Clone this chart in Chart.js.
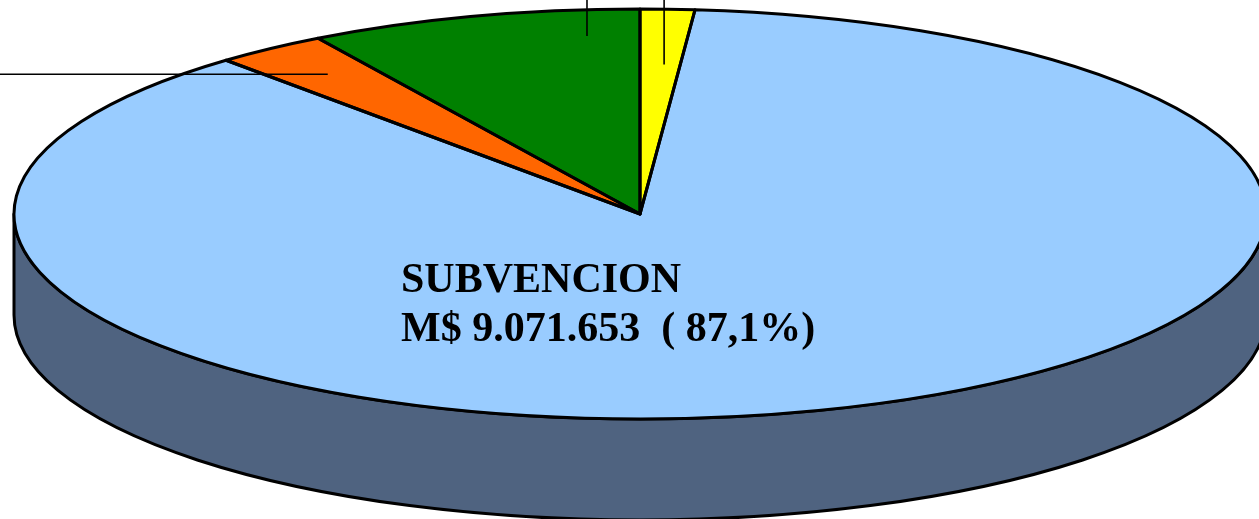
<!DOCTYPE html>
<html><head><meta charset="utf-8">
<script src="https://cdn.jsdelivr.net/npm/chart.js@4/dist/chart.umd.min.js"></script>
<style>html,body{margin:0;padding:0;background:#fff;overflow:hidden}canvas{display:block}</style>
</head><body>
<canvas id="c" width="1259" height="519"></canvas>
<script>
// ---- data (clockwise from 12 o'clock) ----
const categories = ['Aporte A', 'SUBVENCION', 'Aporte B', 'Aporte C'];
const values = [145800, 9071653, 302000, 895700];
const colors = ['#FFFF00', '#99CCFF', '#FF6600', '#008000'];
const sideColors = ['#808000', '#4F6380', '#803300', '#004000'];
const mainLabel = ['SUBVENCION', 'M$ 9.071.653  ( 87,1%)'];

// ---- 3D projection settings ----
const CX = 640, CY = 214, R = 626, K = 205 / 626, DEPTH = 101;
// leader lines: slice index, fraction along slice angle, fraction of radius, direction
const leaders = [
  { i: 0, f: 0.6, r: 0.73, dir: 'up' },
  { i: 2, f: 0.5, r: 0.845, dir: 'left' },
  { i: 3, f: 0.82, r: 0.872, dir: 'up' }
];

function applyTilt(ctx, arc) {
  ctx.translate(CX, CY);
  ctx.scale(1, K);
  ctx.translate(-arc.x, -arc.y);
}

const pie3d = {
  id: 'pie3d',
  beforeDatasetsDraw(chart) {
    const ctx = chart.ctx;
    const arcs = chart.getDatasetMeta(0).data;
    // side walls (front half: canvas angles 0..PI)
    ctx.save();
    ctx.lineWidth = 3;
    ctx.strokeStyle = '#000';
    ctx.lineJoin = 'round';
    arcs.forEach((arc, idx) => {
      const p = arc.getProps(['startAngle', 'endAngle', 'outerRadius'], true);
      const rr = p.outerRadius;
      const s = Math.max(p.startAngle, 0), e = Math.min(p.endAngle, Math.PI);
      if (e <= s) return;
      ctx.beginPath();
      ctx.ellipse(CX, CY, rr, rr * K, 0, s, e, false);
      ctx.lineTo(CX + rr * Math.cos(e), CY + rr * K * Math.sin(e) + DEPTH);
      ctx.ellipse(CX, CY + DEPTH, rr, rr * K, 0, e, s, true);
      ctx.closePath();
      ctx.fillStyle = sideColors[idx];
      ctx.fill();
      ctx.stroke();
    });
    ctx.restore();
    // tilt the top face
    ctx.save();
    applyTilt(ctx, arcs[0]);
  },
  afterDatasetsDraw(chart) {
    const ctx = chart.ctx;
    ctx.restore();
    const arcs = chart.getDatasetMeta(0).data;
    ctx.save();
    ctx.lineWidth = 3;
    ctx.strokeStyle = '#000';
    ctx.lineJoin = 'round';
    arcs.forEach(arc => {
      const p = arc.getProps(['x', 'y', 'startAngle', 'endAngle', 'outerRadius'], true);
      ctx.save();
      applyTilt(ctx, p);
      ctx.beginPath();
      ctx.moveTo(p.x, p.y);
      ctx.arc(p.x, p.y, p.outerRadius, p.startAngle, p.endAngle);
      ctx.closePath();
      ctx.restore();
      ctx.stroke();
    });
    // leader lines
    ctx.lineWidth = 1.6;
    leaders.forEach(l => {
      const p = arcs[l.i].getProps(['startAngle', 'endAngle', 'outerRadius'], true);
      const a = p.startAngle + l.f * (p.endAngle - p.startAngle);
      const x = CX + p.outerRadius * l.r * Math.cos(a);
      const y = CY + p.outerRadius * l.r * K * Math.sin(a);
      ctx.beginPath();
      ctx.moveTo(x, y);
      if (l.dir === 'up') ctx.lineTo(x, -10); else ctx.lineTo(-10, y);
      ctx.stroke();
    });
    // main label
    ctx.fillStyle = '#000';
    ctx.font = 'bold 42px "Liberation Serif", "Times New Roman", serif';
    ctx.textBaseline = 'alphabetic';
    ctx.textAlign = 'left';
    ctx.fillText(mainLabel[0], CX - 239, CY + 78);
    ctx.fillText(mainLabel[1], CX - 239, CY + 127);
    ctx.restore();
  }
};

new Chart(document.getElementById('c'), {
  type: 'pie',
  data: {
    labels: categories,
    datasets: [{
      data: values,
      backgroundColor: colors,
      borderWidth: 0,
      clip: false,
      hoverOffset: 0
    }]
  },
  options: {
    responsive: false,
    animation: false,
    events: [],
    radius: R,
    plugins: { legend: { display: false }, tooltip: { enabled: false } }
  },
  plugins: [pie3d]
});
</script>
</body></html>
